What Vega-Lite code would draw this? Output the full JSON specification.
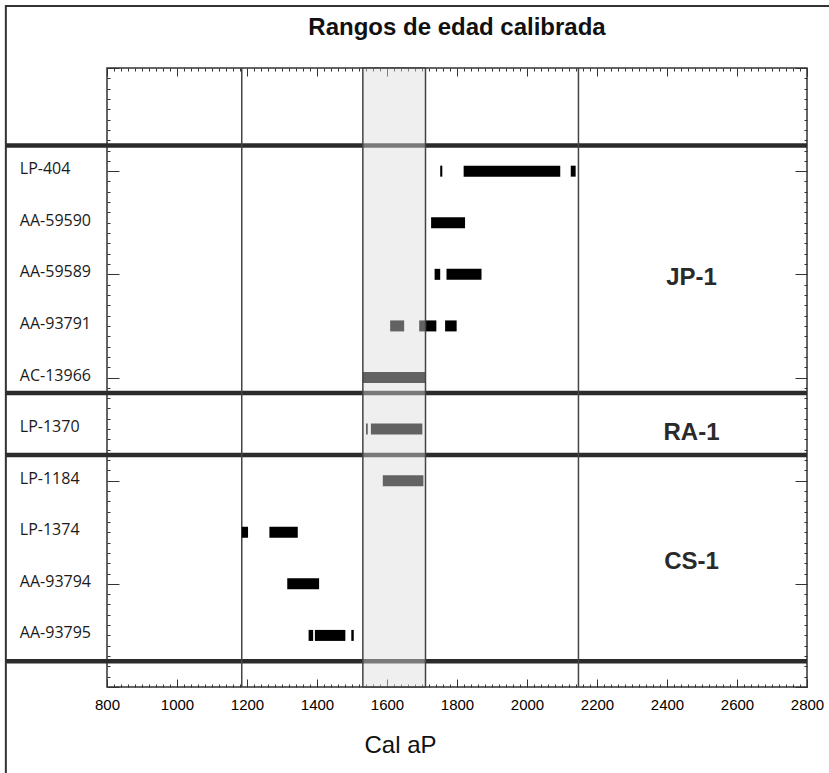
{
  "$schema": "https://vega.github.io/schema/vega-lite/v6.json",
  "width": 700,
  "height": 619,
  "autosize": {"type": "none"},
  "padding": {"left": 107, "top": 68, "right": 22, "bottom": 86},
  "background": "white",
  "title": {"text": "Rangos de edad calibrada", "font": "Liberation Sans", "fontSize": 24, "fontWeight": "bold", "color": "#111", "anchor": "middle", "frame": "group", "offset": -55, "baseline": "alphabetic"},
  "config": {
    "view": {"stroke": "#333", "strokeWidth": 1.5},
    "axis": {"domain": false, "grid": false, "tickColor": "#333", "tickWidth": 1}
  },
  "datasets": {
    "muestras": [
      {"muestra": "LP-404", "grupo": "JP-1", "fila": 1},
      {"muestra": "AA-59590", "grupo": "JP-1", "fila": 2},
      {"muestra": "AA-59589", "grupo": "JP-1", "fila": 3},
      {"muestra": "AA-93791", "grupo": "JP-1", "fila": 4},
      {"muestra": "AC-13966", "grupo": "JP-1", "fila": 5},
      {"muestra": "LP-1370", "grupo": "RA-1", "fila": 6},
      {"muestra": "LP-1184", "grupo": "CS-1", "fila": 7},
      {"muestra": "LP-1374", "grupo": "CS-1", "fila": 8},
      {"muestra": "AA-93794", "grupo": "CS-1", "fila": 9},
      {"muestra": "AA-93795", "grupo": "CS-1", "fila": 10}
    ],
    "rangos": [
      {"muestra": "LP-404", "desde": 1752, "hasta": 1758},
      {"muestra": "LP-404", "desde": 1819, "hasta": 2095},
      {"muestra": "LP-404", "desde": 2125, "hasta": 2139},
      {"muestra": "AA-59590", "desde": 1726, "hasta": 1823},
      {"muestra": "AA-59589", "desde": 1736, "hasta": 1752},
      {"muestra": "AA-59589", "desde": 1770, "hasta": 1870},
      {"muestra": "AA-93791", "desde": 1609, "hasta": 1649},
      {"muestra": "AA-93791", "desde": 1692, "hasta": 1741},
      {"muestra": "AA-93791", "desde": 1766, "hasta": 1799},
      {"muestra": "AC-13966", "desde": 1531, "hasta": 1710},
      {"muestra": "LP-1370", "desde": 1540, "hasta": 1545},
      {"muestra": "LP-1370", "desde": 1554, "hasta": 1701},
      {"muestra": "LP-1184", "desde": 1588, "hasta": 1704},
      {"muestra": "LP-1374", "desde": 1185, "hasta": 1203},
      {"muestra": "LP-1374", "desde": 1264, "hasta": 1345},
      {"muestra": "AA-93794", "desde": 1315, "hasta": 1406},
      {"muestra": "AA-93795", "desde": 1376, "hasta": 1389},
      {"muestra": "AA-93795", "desde": 1394, "hasta": 1481},
      {"muestra": "AA-93795", "desde": 1498, "hasta": 1505}
    ],
    "separadores": [{"fila": 0.5}, {"fila": 5.3}, {"fila": 6.5}, {"fila": 10.5}],
    "referencias": [{"edad": 1185}, {"edad": 2147}],
    "intervalo": [{"desde": 1531, "hasta": 1710}]
  },
  "layer": [
    {
      "data": {"name": "separadores"},
      "mark": {"type": "rule", "color": "#2b2b2b", "strokeWidth": 4.5},
      "encoding": {
        "x": {"datum": 511, "type": "quantitative", "scale": {"domain": [800, 2800], "nice": false, "zero": false}, "axis": null},
        "x2": {"datum": 2800},
        "y": {"field": "fila", "type": "quantitative", "scale": {"domain": [-1, 11], "reverse": true, "nice": false, "zero": false},
          "axis": {"orient": "right", "labels": false, "title": null, "tickCount": 60,
            "tickSize": {"condition": {"test": "abs(datum.value - 1 - 2*round((datum.value - 1)/2)) < 0.01", "value": -12}, "value": -3}}}
      }
    },
    {
      "data": {"name": "intervalo"},
      "mark": {"type": "rule", "color": "#333", "strokeWidth": 2},
      "encoding": {
        "x": {"datum": 511, "type": "quantitative", "scale": {"domain": [800, 2800], "nice": false, "zero": false}, "axis": null},
        "y": {"datum": -2.22, "type": "quantitative", "scale": {"domain": [-1, 11], "reverse": true, "nice": false, "zero": false}, "axis": null},
        "y2": {"datum": 13.5}
      }
    },
    {
      "data": {"name": "intervalo"},
      "mark": {"type": "rule", "color": "#333", "strokeWidth": 2},
      "encoding": {
        "x": {"datum": 511, "type": "quantitative", "scale": {"domain": [800, 2800], "nice": false, "zero": false}, "axis": null},
        "x2": {"datum": 2900},
        "y": {"datum": -2.2, "type": "quantitative", "scale": {"domain": [-1, 11], "reverse": true, "nice": false, "zero": false}, "axis": null}
      }
    },
    {
      "data": {"name": "referencias"},
      "mark": {"type": "rule", "color": "#444", "strokeWidth": 1.5},
      "encoding": {
        "x": {"field": "edad", "type": "quantitative", "scale": {"domain": [800, 2800], "nice": false, "zero": false}, "axis": null}
      }
    },
    {
      "data": {"name": "rangos"},
      "transform": [{"lookup": "muestra", "from": {"data": {"name": "muestras"}, "key": "muestra", "fields": ["fila"]}}],
      "mark": {"type": "rule", "color": "#000", "strokeWidth": 11},
      "encoding": {
        "x": {"field": "desde", "type": "quantitative", "scale": {"domain": [800, 2800], "nice": false, "zero": false},
          "axis": {"orient": "bottom", "tickCount": 100, "format": "d", "labelExpr": "datum.value % 200 === 0 ? datum.label : ''",
            "labelOverlap": false, "labelFlush": false, "labelFont": "Liberation Sans", "labelFontSize": 15, "labelColor": "#000", "labelPadding": 18,
            "tickSize": {"condition": {"test": "datum.value % 200 === 0", "value": -8}, "value": -3},
            "title": "Cal aP", "titleFont": "Liberation Sans", "titleFontSize": 24, "titleFontWeight": "normal", "titleColor": "#111",
            "titleX": 293, "titleY": 58, "titleBaseline": "middle"}},
        "x2": {"field": "hasta"},
        "y": {"field": "fila", "type": "quantitative", "scale": {"domain": [-1, 11], "reverse": true, "nice": false, "zero": false},
          "axis": {"orient": "left", "labels": false, "title": null, "tickCount": 60,
            "tickSize": {"condition": {"test": "abs(datum.value - 1 - 2*round((datum.value - 1)/2)) < 0.01", "value": -12}, "value": -3}}}
      }
    },
    {
      "data": {"name": "intervalo"},
      "mark": {"type": "rect", "fill": "#dcdcdc", "fillOpacity": 0.447, "stroke": "#444", "strokeWidth": 1.5, "strokeOpacity": 1},
      "encoding": {
        "x": {"field": "desde", "type": "quantitative", "scale": {"domain": [800, 2800], "nice": false, "zero": false},
          "axis": {"orient": "top", "labels": false, "title": null, "tickCount": 100,
            "tickSize": {"condition": {"test": "datum.value % 200 === 0", "value": -8}, "value": -3}}},
        "x2": {"field": "hasta"}
      }
    },
    {
      "data": {"name": "muestras"},
      "mark": {"type": "text", "align": "left", "baseline": "middle", "font": "Open Sans", "fontSize": 16, "color": "#1a1a1a", "dy": -2},
      "encoding": {
        "x": {"datum": 551, "type": "quantitative", "scale": {"domain": [800, 2800], "nice": false, "zero": false}, "axis": null},
        "y": {"field": "fila", "type": "quantitative", "scale": {"domain": [-1, 11], "reverse": true, "nice": false, "zero": false}, "axis": null},
        "text": {"field": "muestra"}
      }
    },
    {
      "data": {"name": "muestras"},
      "transform": [{"aggregate": [{"op": "mean", "field": "fila", "as": "fila"}], "groupby": ["grupo"]}],
      "mark": {"type": "text", "align": "center", "baseline": "middle", "font": "Liberation Sans", "fontSize": 24, "fontWeight": "bold", "color": "#2a2a2a", "dy": 4},
      "encoding": {
        "x": {"datum": 2470, "type": "quantitative", "scale": {"domain": [800, 2800], "nice": false, "zero": false}, "axis": null},
        "y": {"field": "fila", "type": "quantitative", "scale": {"domain": [-1, 11], "reverse": true, "nice": false, "zero": false}, "axis": null},
        "text": {"field": "grupo"}
      }
    }
  ],
  "resolve": {"axis": {"x": "independent", "y": "independent"}}
}
